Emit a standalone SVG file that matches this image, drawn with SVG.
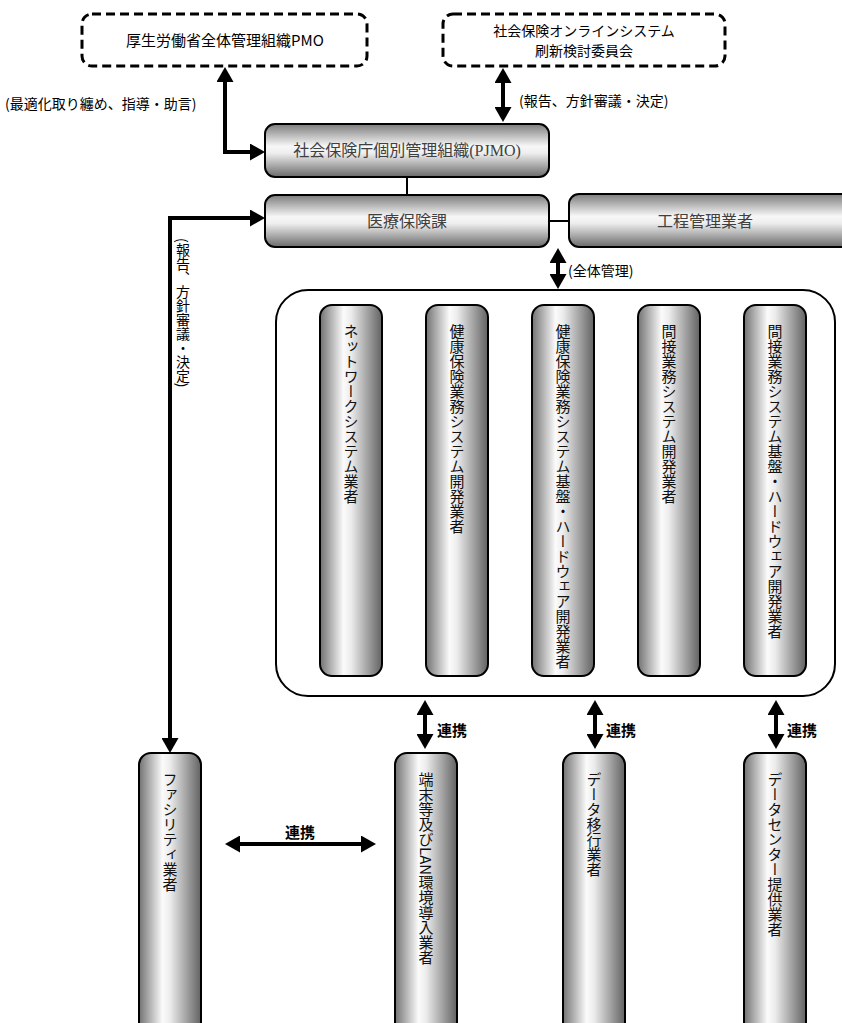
<svg xmlns="http://www.w3.org/2000/svg" width="842" height="1023" viewBox="0 0 842 1023">
<defs>
<linearGradient id="gh" x1="0" y1="0" x2="0" y2="1">
<stop offset="0" stop-color="#7c7c7c"/>
<stop offset="0.42" stop-color="#f7f7f7"/>
<stop offset="0.55" stop-color="#eeeeee"/>
<stop offset="1" stop-color="#6a6a6a"/>
</linearGradient>
<linearGradient id="gv" x1="0" y1="0" x2="1" y2="0">
<stop offset="0" stop-color="#727272"/>
<stop offset="0.38" stop-color="#fbfbfb"/>
<stop offset="0.5" stop-color="#ececec"/>
<stop offset="1" stop-color="#626262"/>
</linearGradient>
<marker id="a" viewBox="0 0 15 17" refX="11" refY="8.5" markerWidth="15" markerHeight="17" markerUnits="userSpaceOnUse" orient="auto-start-reverse">
<path d="M0,0 L15,8.5 L0,17 z" fill="#000"/>
</marker>
</defs>
<style>
.dash{fill:#fff;stroke:#000;stroke-width:3;stroke-dasharray:9 5}
.hb{fill:url(#gh);stroke:#000;stroke-width:2}
.vb{fill:url(#gv);stroke:#000;stroke-width:2}
.cont{fill:none;stroke:#000;stroke-width:2}
.t{font-family:"Noto Sans CJK JP",sans-serif;fill:#000}
.ts{font-family:"Liberation Serif","Noto Sans CJK JP",serif;font-size:16px;fill:#404040;text-anchor:middle}
.vt{font-family:"Noto Sans CJK JP",sans-serif;font-size:15px;fill:#111;writing-mode:vertical-rl}
.lb{font-family:"Noto Sans CJK JP",sans-serif;font-size:15px;font-weight:bold;fill:#000}
.ar{fill:none;stroke:#000;stroke-width:4;marker-start:url(#a);marker-end:url(#a)}
.ln{fill:none;stroke:#000;stroke-width:2}
</style>

<g id="pmo">
<rect class="dash" x="82" y="14" width="285" height="52" rx="10"/>
<text class="t" x="225" y="46" font-size="15" text-anchor="middle">厚生労働省全体管理組織PMO</text>
</g>
<g id="committee">
<rect class="dash" x="443" y="14" width="282" height="52" rx="10"/>
<text class="t" x="584" y="36" font-size="14" text-anchor="middle">社会保険オンラインシステム</text>
<text class="t" x="584" y="56" font-size="14" text-anchor="middle">刷新検討委員会</text>
</g>
<g id="pjmo">
<rect class="hb" x="265" y="124" width="284" height="53" rx="10"/>
<text class="ts" x="407" y="156">社会保険庁個別管理組織(PJMO)</text>
</g>
<g id="iryou">
<rect class="hb" x="265" y="195" width="284" height="52" rx="10"/>
<text class="ts" x="407" y="227">医療保険課</text>
</g>
<g id="koutei">
<rect class="hb" x="569" y="194" width="290" height="53" rx="10"/>
<text class="ts" x="705" y="227">工程管理業者</text>
</g>
<g id="vendors">
<rect class="cont" x="276" y="290" width="559" height="406" rx="32"/>
</g>
<g id="network">
<rect class="vb" x="320" y="305" width="62" height="371" rx="12"/>
<text class="vt" x="351" y="324">ネットワークシステム業者</text>
</g>
<g id="kenpo-dev">
<rect class="vb" x="426" y="305" width="62" height="371" rx="12"/>
<text class="vt" x="457" y="324">健康保険業務システム開発業者</text>
</g>
<g id="kenpo-hw">
<rect class="vb" x="532" y="305" width="62" height="371" rx="12"/>
<text class="vt" x="563" y="324">健康保険業務システム基盤・ハードウェア開発業者</text>
</g>
<g id="kansetsu-dev">
<rect class="vb" x="638" y="305" width="62" height="371" rx="12"/>
<text class="vt" x="669" y="324">間接業務システム開発業者</text>
</g>
<g id="kansetsu-hw">
<rect class="vb" x="744" y="305" width="62" height="371" rx="12"/>
<text class="vt" x="775" y="324">間接業務システム基盤・ハードウェア開発業者</text>
</g>
<g id="facility">
<rect class="vb" x="139" y="753" width="62" height="290" rx="12"/>
<text class="vt" x="170" y="772">ファシリティ業者</text>
</g>
<g id="terminal">
<rect class="vb" x="395" y="753" width="62" height="290" rx="12"/>
<text class="vt" x="426" y="772">端末等及びLAN環境導入業者</text>
</g>
<g id="migration">
<rect class="vb" x="563" y="753" width="62" height="290" rx="12"/>
<text class="vt" x="594" y="772">データ移行業者</text>
</g>
<g id="datacenter">
<rect class="vb" x="744" y="753" width="62" height="290" rx="12"/>
<text class="vt" x="775" y="772">データセンター提供業者</text>
</g>

<g id="connectors">
<path class="ar" d="M225,71 L225,152 L261,152"/>
<path class="ar" d="M503,72 L503,118"/>
<line class="ln" x1="407" y1="177" x2="407" y2="195"/>
<line class="ln" x1="549" y1="221" x2="569" y2="221"/>
<path class="ar" d="M558,252 L558,285"/>
<path class="ar" d="M261,218 L170,218 L170,749"/>
<path class="ar" d="M425,704 L425,745"/>
<path class="ar" d="M595,704 L595,745"/>
<path class="ar" d="M776,704 L776,745"/>
<path class="ar" d="M229,844 L372,844"/>
<text class="t" x="5" y="109" font-size="14">(最適化取り纏め、指導・助言)</text>
<text class="t" x="519" y="106" font-size="14">(報告、方針審議・決定)</text>
<text class="t" x="568" y="276" font-size="14">(全体管理)</text>
<text class="t" x="183" y="238" font-size="14" style="writing-mode:vertical-rl">(報告、方針審議・決定)</text>
<text class="lb" x="437" y="736">連携</text>
<text class="lb" x="606" y="736">連携</text>
<text class="lb" x="787" y="736">連携</text>
<text class="lb" x="300" y="838" text-anchor="middle">連携</text>
</g>
</svg>
